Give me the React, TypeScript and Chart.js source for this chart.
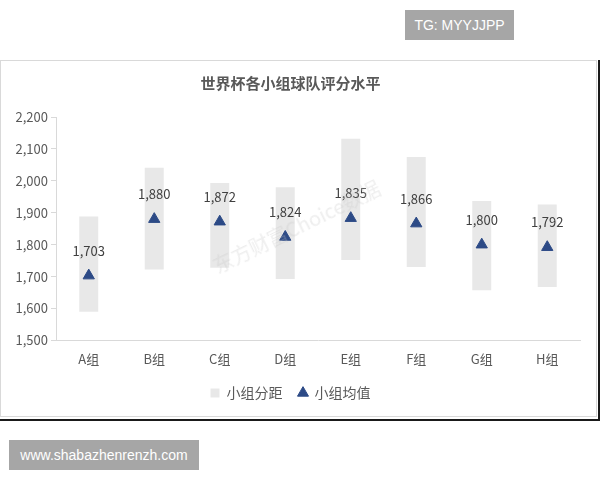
import React, { useEffect, useRef } from "react";
import { Chart, registerables } from "chart.js";

Chart.register(...registerables);

const categories = ["A组", "B组", "C组", "D组", "E组", "F组", "G组", "H组"];
const rangeLow = [1590, 1722, 1728, 1692, 1752, 1730, 1657, 1667];
const rangeHigh = [1888, 2041, 1993, 1980, 2132, 2075, 1937, 1926];
const meanValues = [1703, 1880, 1872, 1824, 1883, 1866, 1800, 1792];
const meanLabels = ["1,703", "1,880", "1,872", "1,824", "1,835", "1,866", "1,800", "1,792"];
const yTicks = { min: 1500, max: 2200, step: 100 };
const titleText = "世界杯各小组球队评分水平";
const seriesNames = ["小组分距", "小组均值"];

const FONT = "'Noto Sans CJK SC', 'Noto Sans', sans-serif";
const TEXT = "#595959";

const meanLabelPlugin = {
  id: "meanLabels",
  afterDatasetsDraw(chart: any) {
    const meta = chart.getDatasetMeta(1);
    const ctx = chart.ctx;
    ctx.save();
    ctx.font = `13px ${FONT}`;
    ctx.fillStyle = "#404040";
    ctx.textAlign = "center";
    ctx.textBaseline = "middle";
    meta.data.forEach((pt: any, i: number) => {
      ctx.fillText(meanLabels[i], pt.x, pt.y - 25);
    });
    ctx.restore();
  },
};

export default function App() {
  const ref = useRef<HTMLCanvasElement | null>(null);
  useEffect(() => {
    if (!ref.current) return;
    const chart = new Chart(ref.current, {
      type: "bar",
      data: {
        labels: categories,
        datasets: [
          {
            type: "bar",
            label: seriesNames[0],
            data: categories.map((_, i) => [rangeLow[i], rangeHigh[i]]),
            backgroundColor: "#e8e8e8",
            borderWidth: 0,
            categoryPercentage: 1,
            barPercentage: 0.29,
            pointStyle: "rect",
            order: 2,
          } as any,
          {
            type: "line",
            label: seriesNames[1],
            data: meanValues,
            showLine: false,
            pointStyle: "triangle",
            pointRadius: 6.5,
            pointBackgroundColor: "#2c4a86",
            pointBorderColor: "#2c4a86",
            backgroundColor: "#2c4a86",
            borderColor: "#2c4a86",
            order: 1,
          } as any,
        ],
      },
      options: {
        animation: false,
        responsive: false,
        maintainAspectRatio: false,
        layout: { padding: { left: 0, right: 17, top: 0, bottom: 7 } },
        plugins: {
          title: {
            display: true,
            text: titleText,
            color: TEXT,
            font: { family: FONT, size: 15, weight: "bold" },
            padding: { top: 13, bottom: 25 },
          },
          legend: {
            display: true,
            position: "bottom",
            labels: {
              usePointStyle: true,
              boxWidth: 9,
              boxHeight: 9,
              color: TEXT,
              font: { family: FONT, size: 14 },
              padding: 16,
              sort: (a: any, b: any) => a.datasetIndex - b.datasetIndex,
            },
          },
          tooltip: { enabled: false },
        },
        scales: {
          x: {
            grid: { display: false },
            border: { display: true, color: "#d9d9d9" },
            ticks: { color: TEXT, font: { family: FONT, size: 13 }, padding: 3 },
          },
          y: {
            min: yTicks.min,
            max: yTicks.max,
            afterFit: (s: any) => {
              s.width = 55;
            },
            grid: { drawOnChartArea: false, drawTicks: true, tickLength: 5, color: "#d9d9d9" },
            border: { display: true, color: "#d9d9d9" },
            ticks: {
              stepSize: yTicks.step,
              color: TEXT,
              font: { family: FONT, size: 13 },
              padding: 3,
              callback: (v: any) => Number(v).toLocaleString("en-US"),
            },
          },
        },
      } as any,
      plugins: [meanLabelPlugin],
    });
    return () => chart.destroy();
  }, []);

  const box: React.CSSProperties = {
    position: "absolute",
    background: "#a6a6a6",
    color: "#ffffff",
    fontFamily: "'Liberation Sans', Arial, sans-serif",
    fontSize: 14,
    display: "flex",
    alignItems: "center",
    justifyContent: "center",
  };

  return (
    <div style={{ position: "fixed", left: 0, top: 0, width: 600, height: 480, background: "#fff", overflow: "hidden" }}>
      <div style={{ ...box, left: 405, top: 10, width: 109, height: 30 }}>TG: MYYJJPP</div>
      <div style={{ position: "absolute", left: 0, top: 60, width: 597, height: 357, boxSizing: "border-box", border: "1px solid #d9d9d9" }} />
      <div style={{ position: "absolute", left: 1, top: 61, width: 596, height: 356 }}>
        <canvas ref={ref} width={596} height={356} style={{ width: 596, height: 356, display: "block" }} />
      </div>
      <div
        style={{
          position: "absolute",
          left: 214,
          top: 252,
          fontFamily: FONT,
          fontSize: 20,
          color: "rgba(200,200,200,0.3)",
          transform: "rotate(-26deg)",
          transformOrigin: "left center",
          whiteSpace: "nowrap",
          pointerEvents: "none",
        }}
      >
        东方财富Choice数据
      </div>
      <div style={{ position: "absolute", left: 0, top: 419, width: 600, height: 2, background: "#1a1a1a" }} />
      <div style={{ position: "absolute", left: 598, top: 60, width: 2, height: 361, background: "#1a1a1a" }} />
      <div style={{ ...box, left: 9, top: 440, width: 190, height: 30 }}>www.shabazhenrenzh.com</div>
    </div>
  );
}
